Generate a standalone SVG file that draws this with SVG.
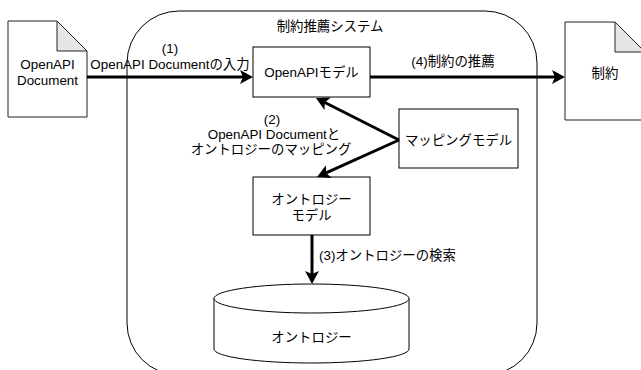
<svg xmlns="http://www.w3.org/2000/svg" width="641" height="370" viewBox="0 0 641 370">
  <style>
    .box { fill: #ffffff; stroke: #000000; stroke-width: 1; }
    .doc { fill: #ffffff; stroke: #222222; stroke-width: 1; }
    .fold { fill: #e6e6e6; stroke: #222222; stroke-width: 1; }
    .edge { fill: none; stroke: #000000; stroke-width: 3; marker-end: url(#arrow); }
    text { font-family: "Liberation Sans", "Noto Sans CJK JP", sans-serif; font-size: 13.4px; fill: #000000; }
    .c { text-anchor: middle; }
  </style>
  <defs>
    <marker id="arrow" viewBox="-4 -8 16 16" refX="0" refY="0" markerWidth="16" markerHeight="16" markerUnits="userSpaceOnUse" orient="auto">
      <path d="M10,0 L-3,-7 L0,0 L-3,7 Z" fill="#000000"/>
    </marker>
  </defs>

  <!-- system boundary -->
  <g id="system">
    <rect x="127" y="11" width="410" height="364" rx="52" ry="52" fill="none" stroke="#000000" stroke-width="1"/>
    <text class="c" x="330" y="31">制約推薦システム</text>
  </g>

  <!-- input document -->
  <g id="openapi-document">
    <path class="doc" d="M8,21 L57,21 L87,51 L87,117 L8,117 Z"/>
    <path class="fold" d="M57,21 L57,51 L87,51 Z"/>
    <text class="c" x="47.5" y="69">OpenAPI</text>
    <text class="c" x="47.5" y="84.5">Document</text>
  </g>

  <!-- output document -->
  <g id="constraint-document">
    <path class="doc" d="M565,22 L615,22 L645,52 L645,120 L565,120 Z"/>
    <path class="fold" d="M615,22 L615,52 L645,52 Z"/>
    <text class="c" x="605" y="78">制約</text>
  </g>

  <g id="openapi-model">
    <rect class="box" x="253" y="47" width="117" height="50"/>
    <text class="c" x="311.5" y="77">OpenAPIモデル</text>
  </g>

  <g id="mapping-model">
    <rect class="box" x="399" y="109" width="119" height="59"/>
    <text class="c" x="458.5" y="145">マッピングモデル</text>
  </g>

  <g id="ontology-model">
    <rect class="box" x="253" y="177" width="117" height="58"/>
    <text class="c" x="311.5" y="204">オントロジー</text>
    <text class="c" x="311.5" y="220">モデル</text>
  </g>

  <g id="ontology">
    <path class="box" d="M214,298 L214,349 A97.5,14 0 0 0 409,349 L409,298"/>
    <ellipse class="box" cx="311.5" cy="298.5" rx="97.5" ry="14.5"/>
    <text class="c" x="311.5" y="342">オントロジー</text>
  </g>

  <!-- connectors -->
  <g id="connectors">
    <path class="edge" d="M87,77 L243,77"/>
    <path class="edge" d="M370,77 L555,77"/>
    <path class="edge" d="M399,140 L324.9,102.5"/>
    <path class="edge" d="M399,140 L326.1,172.9"/>
    <path class="edge" d="M312,235 L312,274"/>
  </g>

  <!-- connector labels -->
  <g id="labels">
    <text class="c" x="170" y="53">(1)</text>
    <text class="c" x="170" y="68.5">OpenAPI Documentの入力</text>
    <text class="c" x="453" y="66">(4)制約の推薦</text>
    <text class="c" x="272" y="124">(2)</text>
    <text class="c" x="274" y="139">OpenAPI Documentと</text>
    <text class="c" x="271" y="154">オントロジーのマッピング</text>
    <text x="319" y="260">(3)オントロジーの検索</text>
  </g>
</svg>
